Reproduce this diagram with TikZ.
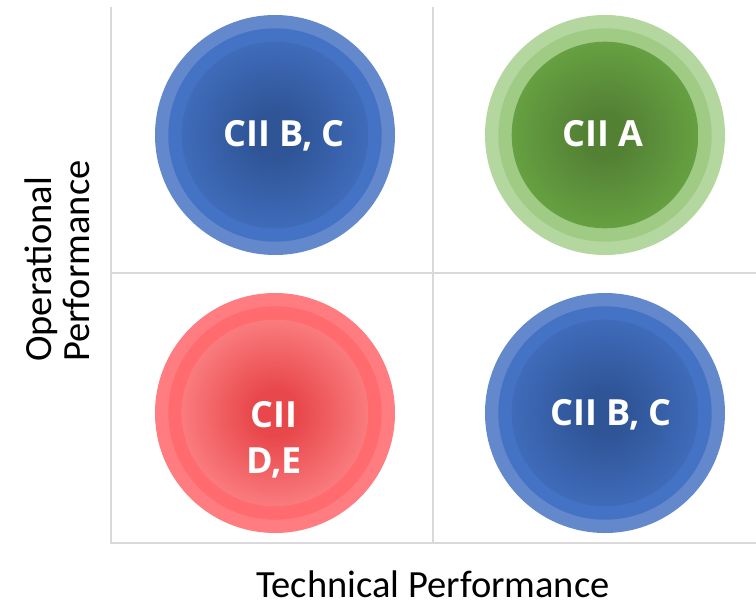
\documentclass[tikz,border=0pt]{standalone}
\usepackage{fontspec}
\setmainfont{Carlito}
\newfontfamily\ballfont{Open Sans}
\definecolor{gridgray}{HTML}{D9D9D9}
\definecolor{blueouter}{HTML}{6389CC}
\definecolor{bluering}{HTML}{4472C4}
\definecolor{blueedge}{HTML}{4472C4}
\definecolor{bluecore}{HTML}{2F5597}
\definecolor{greenouter}{HTML}{B4D79F}
\definecolor{greenring}{HTML}{A0CB85}
\definecolor{greenedge}{HTML}{6CAA46}
\definecolor{greencore}{HTML}{538134}
\definecolor{redouter}{HTML}{FF7C80}
\definecolor{redring}{HTML}{FF6B6E}
\definecolor{rededge}{HTML}{FF8C8E}
\definecolor{redcore}{HTML}{E8474B}
\pgfdeclareradialshading{bluecoreshade}{\pgfpoint{0bp}{0bp}}{color(0bp)=(bluecore); color(6bp)=(bluecore); color(31bp)=(blueedge); color(50bp)=(blueedge)}
\pgfdeclareradialshading{greencoreshade}{\pgfpoint{0bp}{0bp}}{color(0bp)=(greencore); color(6bp)=(greencore); color(31bp)=(greenedge); color(50bp)=(greenedge)}
\pgfdeclareradialshading{redcoreshade}{\pgfpoint{0bp}{0bp}}{color(0bp)=(redcore); color(6bp)=(redcore); color(31bp)=(rededge); color(50bp)=(rededge)}
\newcommand{\ballrings}[2]{% centre, colour name
  \fill[#2outer] (#1) circle (120pt);
  \fill[#2ring] (#1) circle (106.7pt);
  \shade[shading=#2coreshade] (#1) circle (93.3pt);
}

\begin{document}
\begin{tikzpicture}[x=1pt,y=-1pt,
  gridline/.style={draw=gridgray,line width=1.6pt},
  balltext/.style={font=\ballfont\bfseries\fontsize{36}{46}\selectfont,text=white,align=center,inner sep=0pt},
  axistext/.style={font=\fontsize{38.5}{38.3}\selectfont,text=black,inner sep=0pt}]
\useasboundingbox (0,0) rectangle (756,606);
% quadrants
\draw[gridline] (111,7) -- (111,543) -- (756,543);
\draw[gridline] (433,7) -- (433,543);
\draw[gridline] (111,273) -- (756,273);
% balls
\coordinate (tl) at (275,135);
\coordinate (tr) at (605,135);
\coordinate (bl) at (275,413);
\coordinate (br) at (605,413);
\ballrings{tl}{blue}
\ballrings{tr}{green}
\ballrings{bl}{red}
\ballrings{br}{blue}
\node[balltext,anchor=base] (tllabel) at (284,146) {CII B, C};
\node[balltext,anchor=base] (trlabel) at (603,146) {CII A};
\node[balltext] (bllabel) at (274,440) {CII\\D,E};
\node[balltext,anchor=base] (brlabel) at (611,425) {CII B, C};
% axes
\node[axistext,anchor=base] (xlabel) at (433,597) {Technical Performance};
\node[axistext,rotate=90,align=left,anchor=south west] (ylabel) at (90,362) {Operational\\Performance};
\end{tikzpicture}
\end{document}
